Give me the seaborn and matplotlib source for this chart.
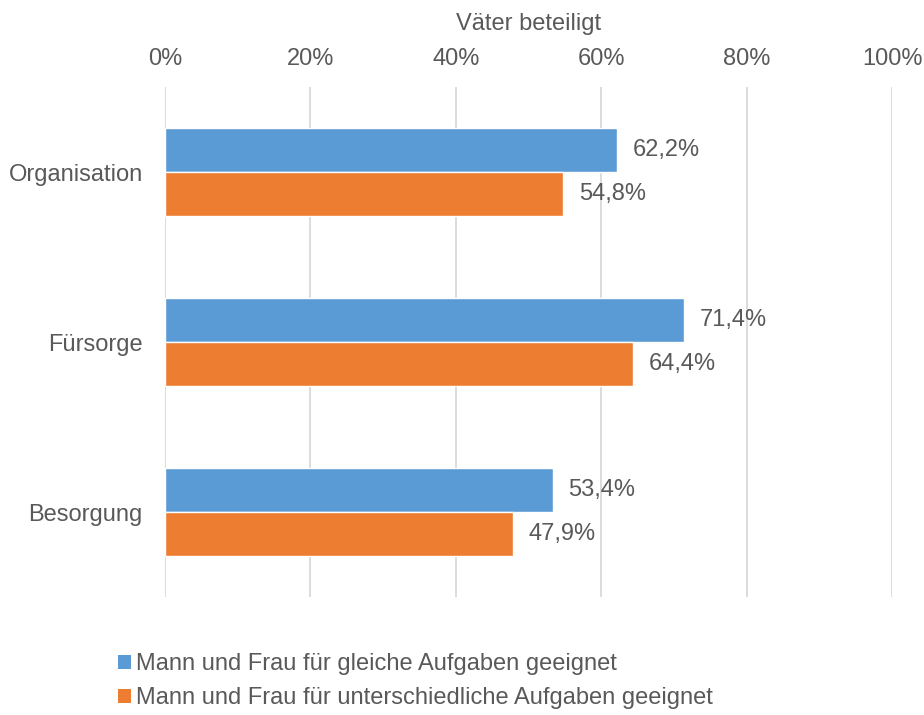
import pandas as pd
import matplotlib.pyplot as plt
import seaborn as sns
from matplotlib.patches import Patch

# Daten
kategorien = ["Organisation", "Fürsorge", "Besorgung"]
gleiche = [62.2, 71.4, 53.4]
unterschiedliche = [54.8, 64.4, 47.9]
serien = ["Mann und Frau für gleiche Aufgaben geeignet",
          "Mann und Frau für unterschiedliche Aufgaben geeignet"]
x_ticks = [0, 20, 40, 60, 80, 100]

df = pd.DataFrame({
    "Kategorie": kategorien * 2,
    "Wert": gleiche + unterschiedliche,
    "Serie": [serien[0]] * 3 + [serien[1]] * 3,
})

sns.set_theme(style="white")
plt.rcParams["font.family"] = ["Liberation Sans", "DejaVu Sans"]
grau = "#595959"
farben = ["#5B9BD5", "#ED7D31"]
fs = 17

fig = plt.figure(figsize=(9.24, 7.15), dpi=100)
ax = fig.add_axes([165 / 924, 1 - 597 / 715, 727 / 924, 510 / 715])

sns.barplot(data=df, y="Kategorie", x="Wert", hue="Serie", orient="h",
            palette=farben, width=0.52, saturation=1, ax=ax, legend=False)

for cont in ax.containers:
    ax.bar_label(cont, labels=[f"{v:.1f}%".replace(".", ",") for v in cont.datavalues],
                 padding=11, fontsize=fs, color=grau)

ax.set_xlim(0, 100)
ax.set_ylim(2.5, -0.5)
ax.set_xticks(x_ticks)
ax.set_xticklabels([f"{t}%" for t in x_ticks])
ax.xaxis.tick_top()
ax.xaxis.set_label_position("top")
ax.set_xlabel("Väter beteiligt", fontsize=fs, color=grau, labelpad=13)
ax.set_ylabel("")
ax.tick_params(axis="both", length=0, labelsize=fs, labelcolor=grau)
ax.tick_params(axis="y", pad=16)
ax.tick_params(axis="x", pad=12)
ax.grid(axis="x", color="#d9d9d9", linewidth=1.3)
ax.set_axisbelow(True)
for s in ax.spines.values():
    s.set_visible(False)

handles = [Patch(facecolor=c, edgecolor="none") for c in farben]
fig.legend(handles, serien, loc="upper left", bbox_to_anchor=(109 / 924, 1 - 644 / 715),
           frameon=False, fontsize=fs, labelcolor=grau, handlelength=0.55,
           handleheight=0.55, handletextpad=0.2, labelspacing=0.5, borderaxespad=0)

fig.savefig("out.png", dpi=100)
